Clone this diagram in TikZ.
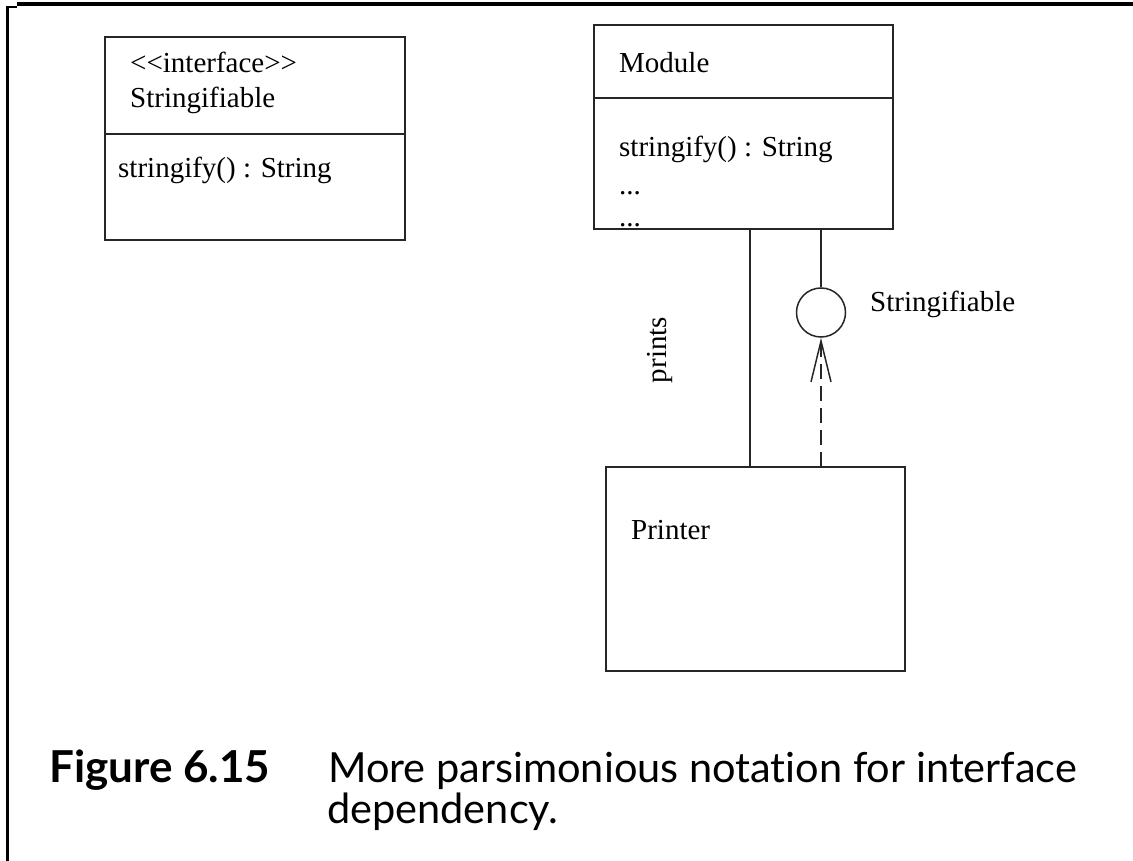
\documentclass[tikz,border=0pt]{standalone}
\usepackage{fontspec}
\setmainfont{Liberation Serif}
\newfontfamily\capfont[Ligatures={NoCommon}]{Lato}
\usetikzlibrary{arrows.meta}
\begin{document}
\begin{tikzpicture}[x=1pt,y=-1pt,
  uml/.style={rectangle, draw=black!85, line width=1.5pt, inner sep=0pt, outer sep=0pt},
  lbl/.style={anchor=base west, inner sep=0pt, font=\fontsize{29}{32}\selectfont},
  wire/.style={draw=black!85, line width=1.5pt},
  capfig/.style={anchor=base west, inner sep=0pt, font=\capfont\bfseries\fontsize{44}{46}\selectfont},
  captext/.style={anchor=base west, inner sep=0pt, font=\capfont\fontsize{41.5}{44}\selectfont}]
\useasboundingbox (0,0) rectangle (1133,861);

% page frame
\draw[line width=4pt] (17,4.5) -- (1133,4.5);
\draw[line width=3pt] (7,6) -- (7,861);
\draw[line width=2pt] (7,7) -- (17,7);

% interface class
\node[uml, minimum width=300pt, minimum height=203pt] (iface) at (255,138.5) {};
\draw[wire] ([yshift=-97pt]iface.north west) -- ([yshift=-97pt]iface.north east);
\node[lbl] (stereo) at (130,73) {<{}<interface>{}>};
\node[lbl] (iname) at (130,108) {Stringifiable};
\node[lbl] (iop) at (118,178) {stringify() : String};

% Module class
\node[uml, minimum width=299pt, minimum height=204pt] (module) at (743.5,127) {};
\draw[wire] ([yshift=-73pt]module.north west) -- ([yshift=-73pt]module.north east);
\node[lbl] (mname) at (619,73) {Module};
\node[lbl] (mop) at (619,157) {stringify() : String};
\node[lbl] (mdots1) at (619,195) {...};
\node[lbl] (mdots2) at (619,227) {...};

% Printer class
\node[uml, minimum width=299pt, minimum height=204pt] (printer) at (755.5,569) {};
\node[lbl] (pname) at (631,539) {Printer};

% provided interface (lollipop)
\node[circle, draw=black!85, line width=1.5pt, minimum size=49pt, inner sep=0pt] (lolli) at (821,312.5) {};
\coordinate (provide) at ([xshift=227pt]module.south west);
\draw[wire] (provide) -- (lolli.north);
\node[lbl] (lname) at (870,312) {Stringifiable};

% association
\coordinate (assoc) at ([xshift=156pt]module.south west);
\draw[wire] (assoc) -- (assoc |- printer.north);
\node[inner sep=0pt, rotate=90, font=\fontsize{29}{32}\selectfont] (prints) at (660,350) {prints};

% dependency on the interface
\draw[wire, dash pattern=on 15pt off 7pt, -{Straight Barb[length=41pt,width=20pt]}]
  (lolli.south |- printer.north) -- (lolli.south);

% caption
\node[capfig] (fig) at (49,782) {Figure 6.15};
\node[captext] (cap1) at (328,782) {More parsimonious notation for interface};
\node[captext] (cap2) at (327,823) {dependency.};
\end{tikzpicture}
\end{document}
